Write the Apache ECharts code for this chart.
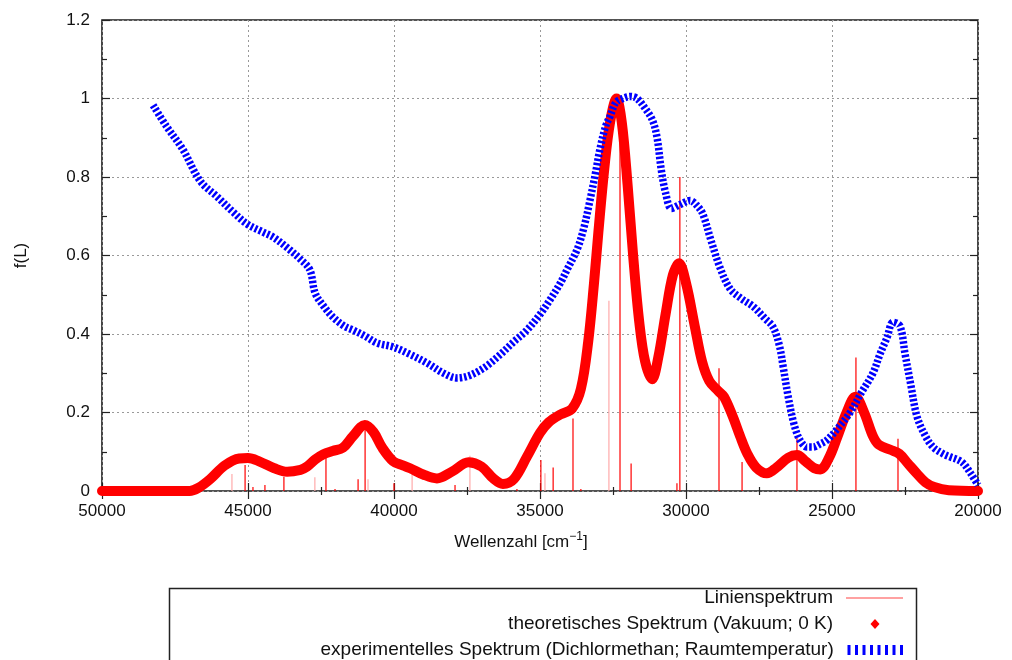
<!DOCTYPE html>
<html>
<head>
<meta charset="utf-8">
<script src="https://cdn.jsdelivr.net/npm/echarts@6/dist/echarts.min.js"></script>
<style>
html,body{margin:0;padding:0;background:#fff;}
#chart{width:1012px;height:660px;}
</style>
</head>
<body>
<div id="chart"></div>
<script>
// ---- data ----
const seriesNames = [
  'Linienspektrum',
  'theoretisches Spektrum (Vakuum; 0 K)',
  'experimentelles Spektrum (Dichlormethan; Raumtemperatur)'
];
const xTitle = 'Wellenzahl [cm{sup|\u22121}]';
const yTitle = 'f(L)';

// stick spectrum (strong lines)
const lineWavenumbers = [45100, 44830, 44420, 43770, 42330, 42020, 41230, 40990, 40000, 37910, 35790, 34970, 34550, 33870, 33600, 32260, 31880, 30310, 30210, 28870, 28080, 26200, 24180, 22740];
const lineIntensities = [0.066, 0.010, 0.015, 0.036, 0.084, 0.005, 0.030, 0.160, 0.020, 0.015, 0.005, 0.079, 0.060, 0.185, 0.005, 1.000, 0.070, 0.020, 0.800, 0.313, 0.074, 0.135, 0.340, 0.133];
// stick spectrum (faint lines)
const faintWavenumbers = [45550, 42710, 40890, 39380, 37400, 34830, 32640];
const faintIntensities = [0.043, 0.035, 0.030, 0.045, 0.090, 0.045, 0.485];

// theoretical spectrum
const theoX = [50000, 48000, 47000, 46700, 46300, 45800, 45300, 45000, 44600, 44100, 43660, 43200, 42980, 42700, 42430, 42100, 41750, 41400, 41000, 40700, 40400, 40030, 39700, 39450, 39000, 38530, 38000, 37450, 37000, 36600, 36270, 35900, 35450, 35000, 34700, 34300, 33900, 33600, 33350, 33150, 33000, 32800, 32600, 32380, 32200, 32000, 31800, 31600, 31400, 31160, 30950, 30700, 30450, 30240, 30000, 29700, 29450, 29200, 28900, 28700, 28400, 28150, 27900, 27600, 27230, 26900, 26500, 26200, 25900, 25600, 25400, 25100, 24830, 24500, 24200, 23900, 23600, 23400, 23000, 22700, 22400, 22100, 21800, 21500, 21000, 20000];
const theoY = [0, 0, 0, 0.008, 0.030, 0.065, 0.083, 0.084, 0.075, 0.058, 0.049, 0.054, 0.062, 0.080, 0.093, 0.102, 0.110, 0.140, 0.168, 0.150, 0.110, 0.076, 0.065, 0.058, 0.042, 0.032, 0.050, 0.073, 0.062, 0.032, 0.018, 0.030, 0.087, 0.148, 0.175, 0.195, 0.210, 0.260, 0.380, 0.530, 0.660, 0.820, 0.940, 1.000, 0.940, 0.780, 0.590, 0.430, 0.330, 0.285, 0.340, 0.450, 0.550, 0.580, 0.530, 0.420, 0.330, 0.280, 0.255, 0.240, 0.190, 0.140, 0.095, 0.060, 0.045, 0.060, 0.085, 0.092, 0.075, 0.058, 0.055, 0.085, 0.135, 0.200, 0.240, 0.200, 0.140, 0.118, 0.105, 0.095, 0.070, 0.045, 0.022, 0.010, 0.002, 0];

// experimental spectrum
const expX = [48250, 47800, 47230, 46640, 46060, 45500, 45030, 44500, 44140, 43660, 43200, 42880, 42700, 42400, 42090, 41700, 41400, 41000, 40580, 40030, 39500, 38870, 38300, 37840, 37500, 37160, 36800, 36370, 35900, 35450, 35000, 34660, 34300, 34080, 33730, 33500, 33290, 33100, 32950, 32750, 32600, 32400, 32160, 31900, 31680, 31400, 31150, 30990, 30850, 30700, 30500, 30200, 29860, 29600, 29420, 29150, 28840, 28490, 28100, 27700, 27300, 27020, 26800, 26680, 26500, 26300, 26100, 25850, 25650, 25400, 25170, 24800, 24380, 24000, 23600, 23350, 23120, 22910, 22670, 22500, 22300, 22090, 21800, 21540, 21200, 20960, 20700, 20510, 20250, 20000];
const expY = [0.983, 0.930, 0.870, 0.790, 0.750, 0.710, 0.680, 0.660, 0.647, 0.620, 0.590, 0.563, 0.504, 0.470, 0.443, 0.420, 0.410, 0.395, 0.377, 0.367, 0.350, 0.326, 0.300, 0.288, 0.292, 0.303, 0.320, 0.347, 0.380, 0.410, 0.450, 0.487, 0.530, 0.563, 0.615, 0.670, 0.740, 0.810, 0.870, 0.930, 0.955, 0.990, 1.000, 1.005, 1.000, 0.975, 0.945, 0.900, 0.820, 0.760, 0.720, 0.730, 0.740, 0.725, 0.705, 0.640, 0.570, 0.515, 0.490, 0.470, 0.440, 0.418, 0.370, 0.320, 0.240, 0.170, 0.130, 0.112, 0.112, 0.120, 0.130, 0.160, 0.200, 0.250, 0.300, 0.350, 0.390, 0.430, 0.420, 0.350, 0.270, 0.190, 0.140, 0.112, 0.095, 0.087, 0.080, 0.071, 0.045, 0.015];

const xMin = 20000, xMax = 50000, xStep = 5000;
const yMin = 0, yMax = 1.2, yStep = 0.2;

// ---- build chart ----
const zip = (a, b) => a.map((v, i) => [v, b[i]]);
const FONT = 'Liberation Sans, Arial, Helvetica, sans-serif';
const TXT = '#111';

function stickRender(params, api) {
  const p0 = api.coord([api.value(0), 0]);
  const p1 = api.coord([api.value(0), api.value(1)]);
  return {
    type: 'line',
    shape: { x1: p0[0], y1: p0[1], x2: p1[0], y2: p1[1] },
    style: { stroke: api.visual('color'), lineWidth: 1.2 }
  };
}

const stripePath = (() => {
  let d = '';
  for (let i = 0; i < 8; i++) {
    const x = i * 7.5;
    d += 'M' + x + ',0 L' + (x + 3) + ',0 L' + (x + 3) + ',10 L' + x + ',10 Z ';
  }
  return 'path://' + d;
})();

function legendAt(top, right, name, icon, color, w, h, gap) {
  return {
    right: right, top: top, padding: 0, orient: 'vertical', align: 'right',
    selectedMode: false, itemWidth: w, itemHeight: h,
    data: [{ name: name, icon: icon, itemStyle: { color: color, borderWidth: 0 } }],
    textStyle: { fontFamily: FONT, fontSize: 19, color: TXT, lineHeight: 22, padding: [0, gap, 0, 0] }
  };
}

const axisCommonX = {
  type: 'value', min: xMin, max: xMax, interval: xStep, inverse: true,
  axisLine: { show: false },
  axisTick: { show: true, inside: true, length: 8, lineStyle: { color: '#222', width: 1.2 } },
  minorTick: { show: true, splitNumber: 2, length: 4, lineStyle: { color: '#222', width: 1.2 } }
};
const axisCommonY = {
  type: 'value', min: yMin, max: yMax, interval: yStep,
  axisLine: { show: false },
  axisTick: { show: true, inside: true, length: 8, lineStyle: { color: '#222', width: 1.2 } },
  minorTick: { show: true, splitNumber: 2, length: 5, lineStyle: { color: '#222', width: 1.2 } }
};

const option = {
  backgroundColor: '#fff',
  animation: false,
  textStyle: { fontFamily: FONT },
  grid: { left: 102, right: 34, top: 20, bottom: 169, show: true, borderColor: '#1a1a1a', borderWidth: 1.6, backgroundColor: 'transparent' },
  xAxis: [
    Object.assign({}, axisCommonX, {
      position: 'bottom',
      name: xTitle, nameLocation: 'middle', nameGap: 40,
      nameTextStyle: { fontFamily: FONT, fontSize: 17, color: TXT, padding: [0, 38, 0, 0],
        rich: { sup: { fontFamily: FONT, fontSize: 12, color: TXT, padding: [0, 0, 10, 0] } } },
      axisLabel: { margin: 12, fontFamily: FONT, fontSize: 17, color: TXT, formatter: v => String(v) },
      splitLine: { show: true, lineStyle: { color: '#999', width: 1, type: [2, 3] } }
    }),
    Object.assign({}, axisCommonX, {
      position: 'top', axisLabel: { show: false }, splitLine: { show: false }
    })
  ],
  yAxis: [
    Object.assign({}, axisCommonY, {
      position: 'left',
      name: yTitle, nameLocation: 'middle', nameGap: 72, nameRotate: 90,
      nameTextStyle: { fontFamily: FONT, fontSize: 17, color: TXT },
      axisLabel: { margin: 12, fontFamily: FONT, fontSize: 17, color: TXT, formatter: v => String(Math.round(v * 10) / 10) },
      splitLine: { show: true, lineStyle: { color: '#999', width: 1, type: [2, 3] } }
    }),
    Object.assign({}, axisCommonY, {
      position: 'right', axisLabel: { show: false }, splitLine: { show: false }
    })
  ],
  legend: [
    legendAt(587, 109, seriesNames[0], 'rect', '#ff4444', 57, 1.2, 8),
    legendAt(613, 132.5, seriesNames[1], 'diamond', '#ff0000', 9, 10, 32.5),
    legendAt(639, 109, seriesNames[2], stripePath, '#0000ff', 57, 10, 8)
  ],
  graphic: [{
    type: 'rect', left: 167, top: 586, z: 100, silent: true,
    shape: { width: 747, height: 100 },
    style: { fill: 'none', stroke: '#222', lineWidth: 1.5 }
  }],
  series: [
    {
      name: seriesNames[0], type: 'custom', renderItem: stickRender,
      data: zip(lineWavenumbers, lineIntensities), encode: { x: 0, y: 1 },
      itemStyle: { color: '#ff0000' }, z: 2
    },
    {
      name: seriesNames[0], type: 'custom', renderItem: stickRender,
      data: zip(faintWavenumbers, faintIntensities), encode: { x: 0, y: 1 },
      itemStyle: { color: '#ffaaaa' }, z: 2
    },
    {
      name: seriesNames[1], type: 'line', data: zip(theoX, theoY),
      showSymbol: false, symbol: 'none', smooth: 0.35, clip: false,
      lineStyle: { color: '#ff0000', width: 10, cap: 'round', join: 'round' },
      itemStyle: { color: '#ff0000' }, z: 3
    },
    {
      name: seriesNames[2], type: 'line', data: zip(expX, expY),
      showSymbol: false, symbol: 'none', smooth: 0.35, clip: false,
      lineStyle: { color: '#0000ff', width: 7.5, type: [2.5, 2], cap: 'butt' },
      itemStyle: { color: '#0000ff' }, z: 4
    }
  ]
};

const chart = echarts.init(document.getElementById('chart'), null, { renderer: 'canvas' });
chart.setOption(option);
</script>
</body>
</html>
